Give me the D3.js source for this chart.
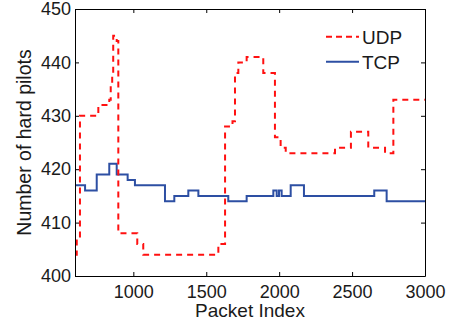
<!DOCTYPE html>
<html>
<head>
<meta charset="utf-8">
<script src="https://cdn.jsdelivr.net/npm/d3@7"></script>
<style>
body { margin: 0; background: #fff; }
text { font-family: "Liberation Sans", Arial, sans-serif; }
</style>
</head>
<body>
<div id="chart"></div>
<script>
// step change points (packet index, number of hard pilots)
var udpX = [600, 612, 634, 760, 835, 845, 855, 862, 886, 897, 1027, 1068, 1583, 1629, 1680, 1697, 1720, 1777, 1891, 1971, 2010, 2045, 2383, 2492, 2611, 2726, 2783, 3000];
var udpY = [404, 407, 430, 432, 433, 436, 438, 445, 444, 408, 406, 404, 406, 428, 429, 438, 440, 441, 438, 426, 424, 423, 424, 427, 424, 423, 433, 433];

var tcpX = [600, 669, 749, 835, 886, 961, 1011, 1217, 1281, 1377, 1446, 1651, 1777, 1960, 1983, 1999, 2017, 2079, 2170, 2652, 2737, 3000];
var tcpY = [417, 416, 419, 421, 419, 418, 417, 414, 415, 416, 415, 414, 415, 416, 415, 416, 415, 417, 415, 416, 414, 414];

var xTicks = [1000, 1500, 2000, 2500, 3000];
var yTicks = [400, 410, 420, 430, 440, 450];
var seriesNames = ["UDP", "TCP"];

var margin = {top: 9, right: 26, bottom: 47, left: 75},
    width = 451 - margin.left - margin.right,
    height = 323 - margin.top - margin.bottom;

var svg = d3.select("#chart").append("svg")
    .attr("width", 451)
    .attr("height", 323);

var chart = svg.append("g")
    .attr("transform", "translate(" + margin.left + "," + margin.top + ")");

var x = d3.scaleLinear().domain([600, 3000]).range([0, width]);
var y = d3.scaleLinear().domain([400, 450]).range([height, 0]);

var line = d3.line()
    .x(function(d) { return x(d[0]); })
    .y(function(d) { return y(d[1]); })
    .curve(d3.curveStepAfter);

var udp = d3.zip(udpX, udpY);
var tcp = d3.zip(tcpX, tcpY);

chart.append("path")
    .datum(tcp)
    .attr("fill", "none")
    .attr("stroke", "#2d4fa3")
    .attr("stroke-width", 2)
    .attr("d", line);

chart.append("path")
    .datum(udp)
    .attr("fill", "none")
    .attr("stroke", "#ff1010")
    .attr("stroke-width", 2)
    .attr("stroke-dasharray", "6,5")
    .attr("d", line);

// axes, ticks inward like matlab
function style(g) {
  g.selectAll("text").style("font-size", "18px").attr("fill", "#1a1a1a");
  g.select(".domain").attr("stroke", "#000");
  g.selectAll(".tick line").attr("stroke", "#000");
}

chart.append("g")
    .attr("transform", "translate(0," + height + ")")
    .call(d3.axisBottom(x).tickValues(xTicks).tickFormat(d3.format("d")).tickSize(-4).tickSizeOuter(0).tickPadding(9.5))
    .call(style);

chart.append("g")
    .call(d3.axisLeft(y).tickValues(yTicks).tickFormat(d3.format("d")).tickSize(-4).tickSizeOuter(0).tickPadding(4))
    .call(style);

chart.append("g")
    .call(d3.axisTop(x).tickValues(xTicks).tickSize(-4).tickSizeOuter(0).tickFormat(""))
    .call(style);

chart.append("g")
    .attr("transform", "translate(" + width + ",0)")
    .call(d3.axisRight(y).tickValues(yTicks).tickSize(-4).tickSizeOuter(0).tickFormat(""))
    .call(style);

chart.append("text")
    .attr("x", width / 2)
    .attr("y", height + 40.7)
    .style("font-size", "19px")
    .style("text-anchor", "middle")
    .attr("fill", "#1a1a1a")
    .text("Packet Index");

chart.append("text")
    .attr("transform", "rotate(-90)")
    .attr("x", -height / 2)
    .attr("y", -44)
    .style("font-size", "19.5px")
    .style("text-anchor", "middle")
    .attr("fill", "#1a1a1a")
    .text("Number of hard pilots");

// legend
var legend = chart.selectAll(".legend")
    .data(seriesNames)
    .enter().append("g")
    .attr("transform", function(d, i) { return "translate(" + (326 - margin.left) + "," + (36.7 - margin.top + i * 25) + ")"; });

legend.append("line")
    .attr("x1", 0).attr("x2", 33)
    .attr("stroke", function(d, i) { return i == 0 ? "#ff1010" : "#2d4fa3"; })
    .attr("stroke-width", 2)
    .attr("stroke-dasharray", function(d, i) { return i == 0 ? "6,4" : null; });

legend.append("text")
    .attr("x", 36)
    .attr("dy", "0.36em")
    .style("font-size", "19px")
    .attr("fill", "#1a1a1a")
    .text(function(d) { return d; });
</script>
</body>
</html>
